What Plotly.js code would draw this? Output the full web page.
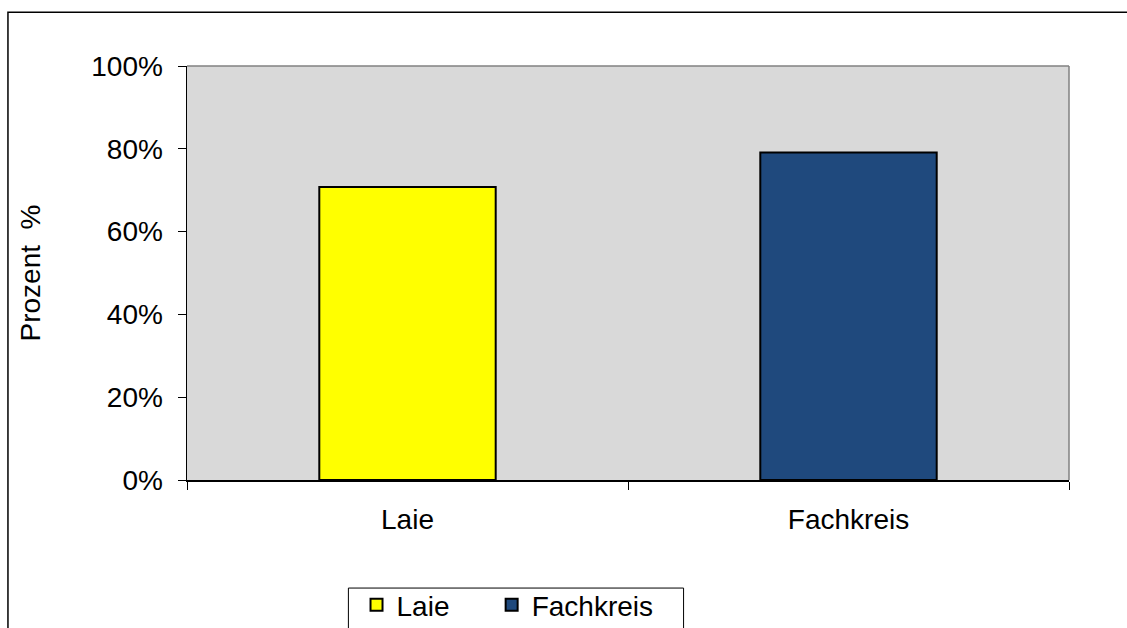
<!DOCTYPE html>
<html>
<head>
<meta charset="utf-8">
<script src="https://cdn.plot.ly/plotly-3.0.1.min.js"></script>
<style>
html,body{margin:0;padding:0;background:#fff;}
#chart{width:1127px;height:628px;}
</style>
</head>
<body>
<div id="chart"></div>
<script>
const categories = ["Laie", "Fachkreis"];
const values = [0.708, 0.791];
const seriesNames = ["Laie", "Fachkreis"];
const colors = ["#ffff00", "#1f497d"];
const yTickVals = [0, 0.2, 0.4, 0.6, 0.8, 1.0];
const yTickText = ["0%", "20%", "40%", "60%", "80%", "100%"];

const legendIds = ["legend", "legend2"];
const traces = categories.map((c, i) => ({
  type: "bar",
  name: seriesNames[i],
  x: [c],
  y: [values[i]],
  width: 0.4,
  legend: legendIds[i],
  marker: {color: colors[i], line: {color: "#000", width: 2}},
  hoverinfo: "skip"
}));

const FS = 28;
const legendBase = {
  orientation: "h",
  y: -0.302, xanchor: "left", yanchor: "middle",
  font: {size: FS},
  bgcolor: "rgba(0,0,0,0)",
  itemclick: false
};
const layout = {
  width: 1127, height: 628,
  margin: {l: 187, r: 58, t: 66, b: 148, autoexpand: false},
  paper_bgcolor: "#ffffff",
  plot_bgcolor: "#d9d9d9",
  font: {family: "Liberation Sans, Arial, sans-serif", size: FS, color: "#000"},
  barmode: "group",
  showlegend: true,
  xaxis: {
    type: "category",
    categoryorder: "array",
    categoryarray: categories,
    tickson: "boundaries",
    ticks: "outside", ticklen: 8, tickcolor: "#000", tickwidth: 1,
    showline: true, linecolor: "#000", linewidth: 1.5,
    showgrid: false,
    tickfont: {size: FS},
    ticklabelstandoff: 14,
    automargin: false
  },
  yaxis: {
    range: [0, 1],
    tickvals: yTickVals, ticktext: yTickText,
    ticks: "outside", ticklen: 8, tickcolor: "#000",
    showline: true, linecolor: "#000", linewidth: 1.5,
    showgrid: false, zeroline: false,
    tickfont: {size: FS},
    ticklabelstandoff: 9,
    automargin: false,
    title: {text: "Prozent  %", font: {size: FS}, standoff: 42}
  },
  legend: Object.assign({}, legendBase, {x: 0.1922}),
  legend2: Object.assign({}, legendBase, {x: 0.3454}),
  shapes: [
    {type: "rect", xref: "paper", yref: "paper", x0: -0.203, x1: 1.2, y0: -0.6, y1: 1.13,
     line: {color: "#000", width: 1.5}, fillcolor: "rgba(0,0,0,0)", layer: "below"},
    {type: "line", xref: "paper", yref: "paper", x0: 0, x1: 1, y0: 1, y1: 1,
     line: {color: "#808080", width: 1.5}},
    {type: "line", xref: "paper", yref: "paper", x0: 1, x1: 1, y0: 0, y1: 1,
     line: {color: "#808080", width: 1.5}},
    {type: "rect", xref: "paper", yref: "paper", x0: 0.183, x1: 0.563, y0: -0.45, y1: -0.261,
     line: {color: "#000", width: 1}, fillcolor: "rgba(0,0,0,0)"}
  ]
};

Plotly.newPlot("chart", traces, layout, {displayModeBar: false, staticPlot: true});
</script>
</body>
</html>
